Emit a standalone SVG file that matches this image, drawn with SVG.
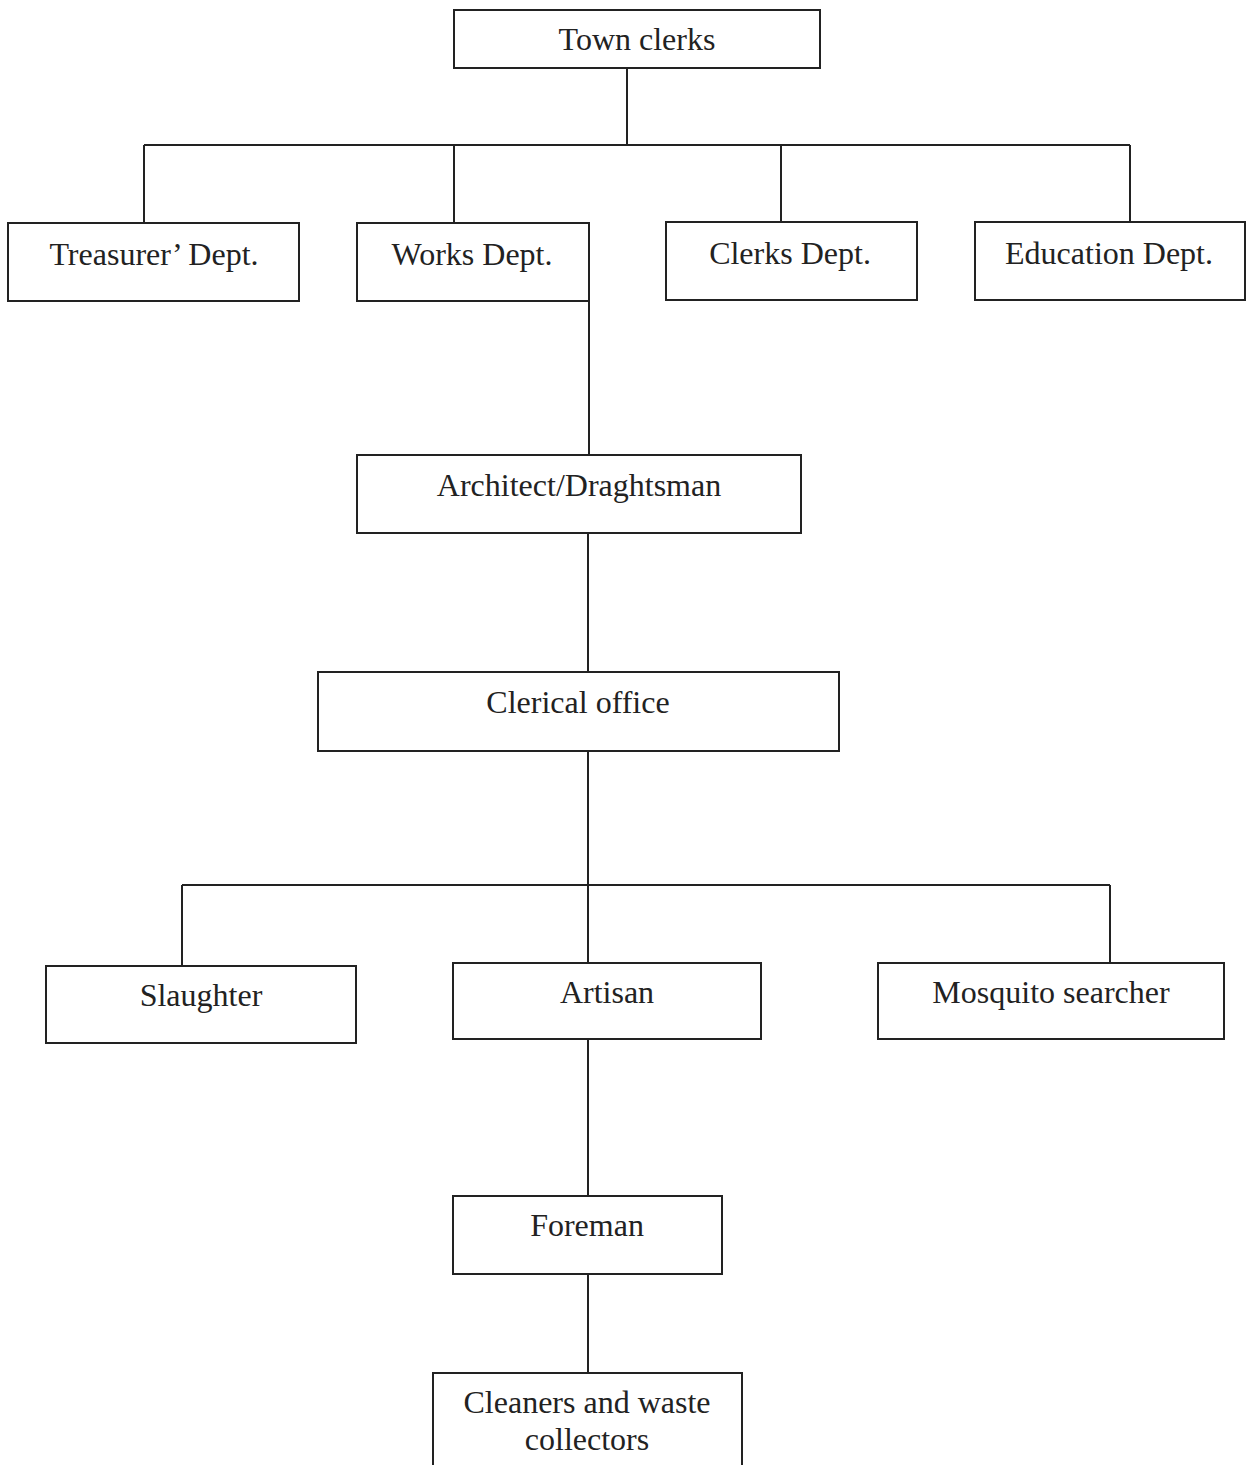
<svg xmlns="http://www.w3.org/2000/svg" width="1252" height="1465" viewBox="0 0 1252 1465">
<style>
.box{fill:#fff;stroke:#222;stroke-width:2}
.lbl{font-family:"Liberation Serif","Times New Roman",serif;font-size:32px;fill:#222;text-anchor:middle}
.con{fill:none;stroke:#222;stroke-width:2}
</style>
<rect width="1252" height="1465" fill="#fff"/>
<g id="connectors">
<path class="con" d="M627 68V145M144 145H1130M144 145V223M454 145V223M781 145V222M1130 145V222"/>
<path class="con" d="M589 301V455M588 533V672M588 751V885M182 885H1110M182 885V966M588 885V963M1110 885V963M588 1039V1196M588 1274V1373"/>
</g>
<g id="town-clerks"><rect class="box" x="454" y="10" width="366" height="58"/><text class="lbl" x="637" y="50">Town clerks</text></g>
<g id="treasurer"><rect class="box" x="8" y="223" width="291" height="78"/><text class="lbl" x="154" y="265">Treasurer’ Dept.</text></g>
<g id="works"><rect class="box" x="357" y="223" width="232" height="78"/><text class="lbl" x="472" y="265">Works Dept.</text></g>
<g id="clerks"><rect class="box" x="666" y="222" width="251" height="78"/><text class="lbl" x="790" y="264">Clerks Dept.</text></g>
<g id="education"><rect class="box" x="975" y="222" width="270" height="78"/><text class="lbl" x="1109" y="264">Education Dept.</text></g>
<g id="architect"><rect class="box" x="357" y="455" width="444" height="78"/><text class="lbl" x="579" y="496">Architect/Draghtsman</text></g>
<g id="clerical"><rect class="box" x="318" y="672" width="521" height="79"/><text class="lbl" x="578" y="713">Clerical office</text></g>
<g id="slaughter"><rect class="box" x="46" y="966" width="310" height="77"/><text class="lbl" x="201" y="1006">Slaughter</text></g>
<g id="artisan"><rect class="box" x="453" y="963" width="308" height="76"/><text class="lbl" x="607" y="1003">Artisan</text></g>
<g id="mosquito"><rect class="box" x="878" y="963" width="346" height="76"/><text class="lbl" x="1051" y="1003">Mosquito searcher</text></g>
<g id="foreman"><rect class="box" x="453" y="1196" width="269" height="78"/><text class="lbl" x="587" y="1236">Foreman</text></g>
<g id="cleaners"><rect class="box" x="433" y="1373" width="309" height="100"/><text class="lbl" x="587" y="1413">Cleaners and waste</text><text class="lbl" x="587" y="1450">collectors</text></g>
</svg>
